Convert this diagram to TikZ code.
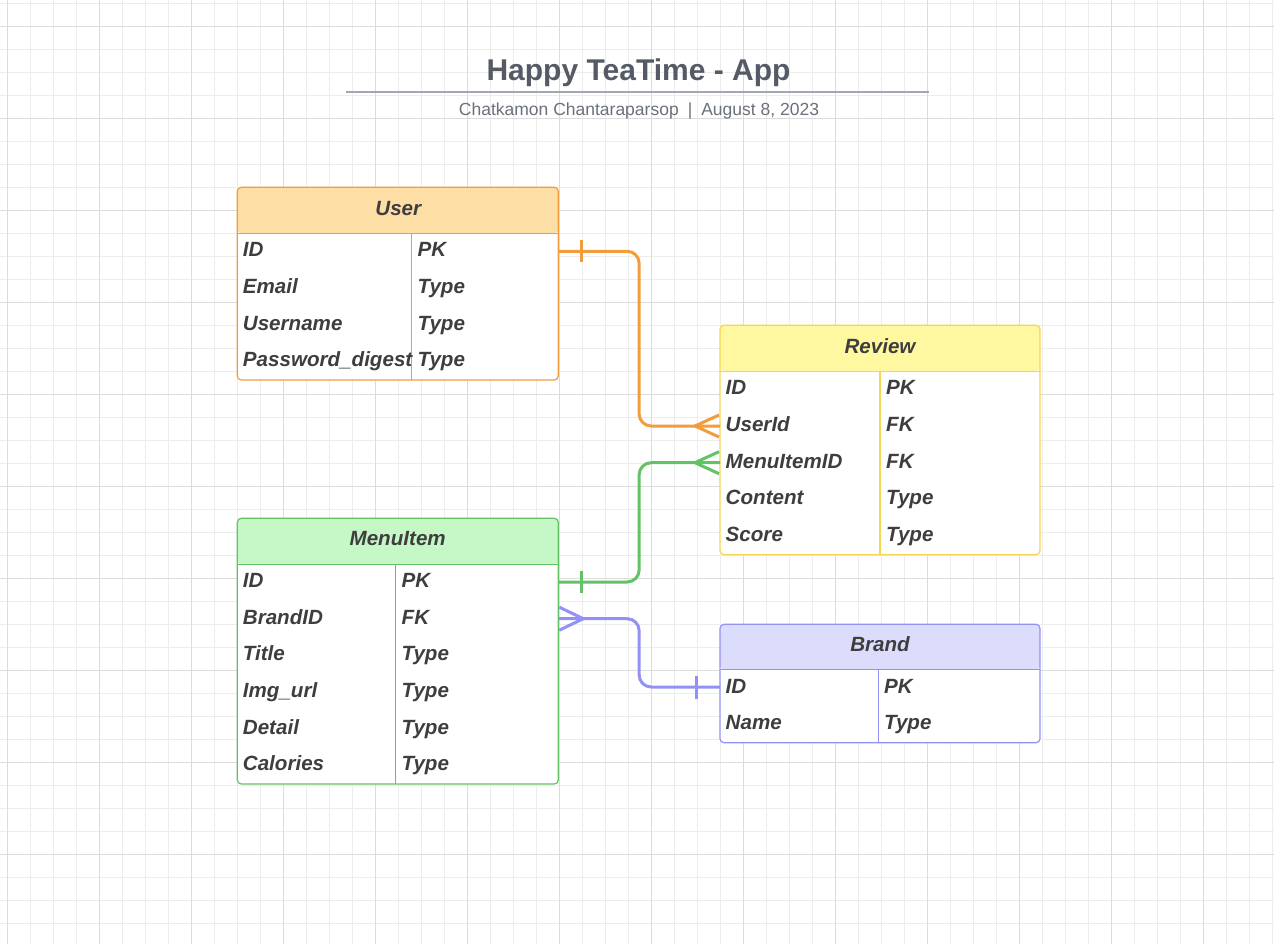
\documentclass[tikz,border=0pt]{standalone}
\usepackage{fontspec}
\setmainfont{Liberation Sans}
\usetikzlibrary{calc}
\definecolor{gminor}{HTML}{EDEDED}
\definecolor{gmajor}{HTML}{DCDCDC}
\definecolor{titlec}{HTML}{545B66}
\definecolor{subc}{HTML}{6B717A}
\definecolor{rulec}{HTML}{A3A8B0}
\definecolor{txtc}{HTML}{3E3E3E}
\definecolor{obd}{HTML}{F39C3E}
\definecolor{ofill}{HTML}{FDDFA6}
\definecolor{ybd}{HTML}{F6D64E}
\definecolor{yfill}{HTML}{FFF8A0}
\definecolor{gbd}{HTML}{63C263}
\definecolor{gfill}{HTML}{C6F7C6}
\definecolor{pbd}{HTML}{9191F6}
\definecolor{pfill}{HTML}{DCDCFD}
\tikzset{
  gridminor/.style={gminor, line width=1pt},
  gridmajor/.style={gmajor, line width=1.2pt},
  tbl/.style={rectangle, rounded corners=4pt, line width=1.2pt, fill=white, inner sep=0pt, outer sep=0pt, anchor=north west},
  hdrtext/.style={inner sep=0pt, text height=14.8pt, text depth=0pt, text=txtc, font=\fontsize{20.6}{22}\selectfont\bfseries\itshape},
  fld/.style={hdrtext, anchor=west},
  conn/.style={line width=3pt, rounded corners=12pt},
  footline/.style={line width=3pt},
}
\begin{document}
\begin{tikzpicture}[x=1pt,y=-1pt]
\useasboundingbox (0,0) rectangle (1274,944);
\fill[white] (0,0) rectangle (1274,944);
% grid
\foreach \i in {0,...,55} {\draw[gridminor] (7.3+23*\i,0) -- (7.3+23*\i,944);}
\foreach \i in {0,...,41} {\draw[gridminor] (0,3.3+23*\i) -- (1274,3.3+23*\i);}
\foreach \i in {0,...,13} {\draw[gridmajor] (7.3+92*\i,0) -- (7.3+92*\i,944);}
\foreach \i in {0,...,10} {\draw[gridmajor] (0,26.3+92*\i) -- (1274,26.3+92*\i);}

% title
\node[inner sep=0pt, text height=21.5pt, text depth=0pt, text=titlec, font=\fontsize{30}{32}\selectfont\bfseries] (title) at (638.5,70) {Happy TeaTime - App};
\coordinate (rl) at (346,92);
\coordinate (rr) at (929,92);
\draw[rulec, line width=2pt] (rl) -- (rr);
\node[inner sep=0pt, text height=12.5pt, text depth=0pt, text=subc, font=\fontsize{17.5}{20}\selectfont] (subtitle) at (639,109.5) {Chatkamon Chantaraparsop\hspace{9pt}|\hspace{9pt}August 8, 2023};

% ---------- User ----------
\node[tbl, draw=obd, minimum width=321pt, minimum height=192.7pt,
  path picture={\fill[ofill] (path picture bounding box.north west) rectangle ([yshift=-46pt]path picture bounding box.north east);}] (user) at (237.3,187.3) {};
\draw[obd, line width=1.2pt] (237.3,233.3) -- (558.3,233.3);
\draw[obd, line width=1.2pt] (411.7,233.3) -- (411.7,380);
\node[hdrtext] (user-h) at (398.3,207.7) {User};
\node[fld] (u-id) at (242.7,249.3) {ID};
\node[fld] (u-email) at (242.7,286) {Email};
\node[fld] (u-name) at (242.7,322.7) {Username};
\node[fld] (u-pw) at (242.7,359.3) {Password\_digest};
\node[fld] (u-idt) at (417.5,249.3) {PK};
\node[fld] (u-emailt) at (417.5,286) {Type};
\node[fld] (u-namet) at (417.5,322.7) {Type};
\node[fld] (u-pwt) at (417.5,359.3) {Type};

% ---------- Review ----------
\node[tbl, draw=ybd, minimum width=320pt, minimum height=229.4pt,
  path picture={\fill[yfill] (path picture bounding box.north west) rectangle ([yshift=-46pt]path picture bounding box.north east);}] (review) at (720,325.3) {};
\draw[ybd, line width=1.2pt] (720,371.3) -- (1040,371.3);
\draw[ybd, line width=1.2pt] (880,371.3) -- (880,554.7);
\node[hdrtext] (review-h) at (880,345.7) {Review};
\node[fld] (r-id) at (725.5,387.3) {ID};
\node[fld] (r-uid) at (725.5,424) {UserId};
\node[fld] (r-mid) at (725.5,460.7) {MenuItemID};
\node[fld] (r-content) at (725.5,497.3) {Content};
\node[fld] (r-score) at (725.5,534) {Score};
\node[fld] (r-idt) at (886,387.3) {PK};
\node[fld] (r-uidt) at (886,424) {FK};
\node[fld] (r-midt) at (886,460.7) {FK};
\node[fld] (r-contentt) at (886,497.3) {Type};
\node[fld] (r-scoret) at (886,534) {Type};

% ---------- MenuItem ----------
\node[tbl, draw=gbd, minimum width=321pt, minimum height=265.7pt,
  path picture={\fill[gfill] (path picture bounding box.north west) rectangle ([yshift=-46pt]path picture bounding box.north east);}] (menu) at (237.3,518.3) {};
\draw[gbd, line width=1.2pt] (237.3,564.3) -- (558.3,564.3);
\draw[gbd, line width=1.2pt] (395.7,564.3) -- (395.7,784);
\node[hdrtext] (menu-h) at (397.7,538.3) {MenuItem};
\node[fld] (m-id) at (242.7,580) {ID};
\node[fld] (m-bid) at (242.7,616.7) {BrandID};
\node[fld] (m-title) at (242.7,653.3) {Title};
\node[fld] (m-img) at (242.7,690) {Img\_url};
\node[fld] (m-detail) at (242.7,726.7) {Detail};
\node[fld] (m-cal) at (242.7,763.3) {Calories};
\node[fld] (m-idt) at (401.5,580) {PK};
\node[fld] (m-bidt) at (401.5,616.7) {FK};
\node[fld] (m-titlet) at (401.5,653.3) {Type};
\node[fld] (m-imgt) at (401.5,690) {Type};
\node[fld] (m-detailt) at (401.5,726.7) {Type};
\node[fld] (m-calt) at (401.5,763.3) {Type};

% ---------- Brand ----------
\node[tbl, draw=pbd, minimum width=320pt, minimum height=118.4pt,
  path picture={\fill[pfill] (path picture bounding box.north west) rectangle ([yshift=-45pt]path picture bounding box.north east);}] (brand) at (720,624.3) {};
\draw[pbd, line width=1.2pt] (720,669.3) -- (1040,669.3);
\draw[pbd, line width=1.2pt] (878.3,669.3) -- (878.3,742.7);
\node[hdrtext] (brand-h) at (880,644.3) {Brand};
\node[fld] (b-id) at (725.5,686) {ID};
\node[fld] (b-name) at (725.5,722.3) {Name};
\node[fld] (b-idt) at (884,686) {PK};
\node[fld] (b-namet) at (884,722.3) {Type};

% ---------- connectors ----------
\coordinate (mx) at ($(user.east)!0.5!(review.west)$);
% User -> Review (one to many)
\coordinate (oa) at ($(user.east |- u-id)+(0,2)$);
\coordinate (ob) at ($(review.west |- r-uid)+(0,2)$);
\draw[obd, conn] (oa) -| (mx |- ob) -- (ob);
\draw[obd, footline] ($(oa)+(23,-11)$) -- ($(oa)+(23,11)$);
\draw[obd, footline] ($(ob)+(-25,0)$) -- ($(ob)+(-1,-11)$);
\draw[obd, footline] ($(ob)+(-25,0)$) -- ($(ob)+(-1,11)$);
% MenuItem -> Review (one to many)
\coordinate (ga) at ($(menu.east |- m-id)+(0,2)$);
\coordinate (gb) at ($(review.west |- r-mid)+(0,2)$);
\draw[gbd, conn] (ga) -| (mx |- gb) -- (gb);
\draw[gbd, footline] ($(ga)+(23,-11)$) -- ($(ga)+(23,11)$);
\draw[gbd, footline] ($(gb)+(-25,0)$) -- ($(gb)+(-1,-11)$);
\draw[gbd, footline] ($(gb)+(-25,0)$) -- ($(gb)+(-1,11)$);
% Brand -> MenuItem (one to many)
\coordinate (pa) at ($(menu.east |- m-bid)+(0,2)$);
\coordinate (pb) at ($(brand.west |- b-id)+(0,1)$);
\draw[pbd, conn] (pa) -| (mx |- pb) -- (pb);
\draw[pbd, footline] ($(pb)+(-24,-11.5)$) -- ($(pb)+(-24,11.5)$);
\draw[pbd, footline] ($(pa)+(25,0)$) -- ($(pa)+(1,-11.5)$);
\draw[pbd, footline] ($(pa)+(25,0)$) -- ($(pa)+(1,11.5)$);
\end{tikzpicture}
\end{document}
